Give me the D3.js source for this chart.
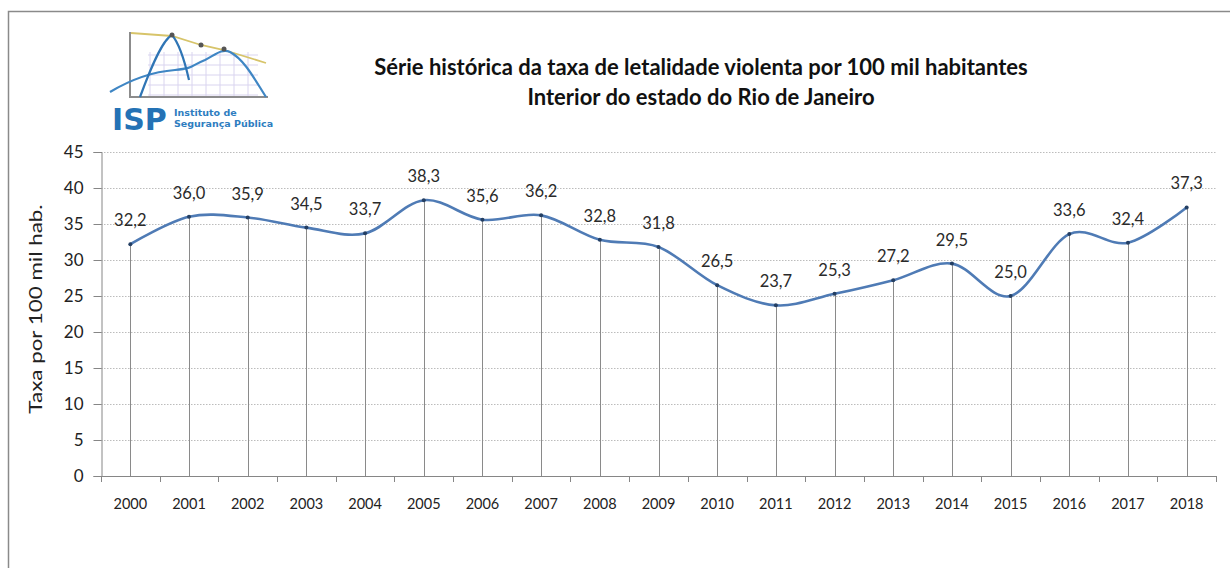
<!DOCTYPE html>
<html><head><meta charset="utf-8">
<script src="https://cdn.jsdelivr.net/npm/d3@7"></script>
<style>body{margin:0;background:#fff;} svg{display:block;font-family:Lato, "Open Sans", sans-serif;}</style>
</head><body><svg id="c" width="1230" height="568"></svg>
<script>
const years = ["2000","2001","2002","2003","2004","2005","2006","2007","2008","2009","2010","2011","2012","2013","2014","2015","2016","2017","2018"];
const values = [32.2,36.0,35.9,34.5,33.7,38.3,35.6,36.2,32.8,31.8,26.5,23.7,25.3,27.2,29.5,25.0,33.6,32.4,37.3];
const yTicks = [0,5,10,15,20,25,30,35,40,45];
const titleLines = ["Série histórica da taxa de letalidade violenta por 100 mil habitantes","Interior do estado do Rio de Janeiro"];
const yTitle = "Taxa por 100 mil hab.";
const logoName = "ISP";
const logoSub = ["Instituto de","Segurança Pública"];

const svg = d3.select("#c");
const fmt = v => d3.format(".1f")(v).replace(".", ",");

// frame
svg.append("rect").attr("x",8.5).attr("y",11.5).attr("width",1400).attr("height",800)
  .attr("fill","#fff").attr("stroke","#8a8a8a").attr("stroke-width",1.5);

const x = d3.scaleBand().domain(years).range([101,1216]).padding(0);
const y = d3.scaleLinear().domain([0,45]).range([476,152]);
const cx = d => x(d) + x.bandwidth()/2;

// gridlines
svg.append("g").selectAll("line").data(yTicks.filter(t=>t>0)).join("line")
  .attr("x1",101).attr("x2",1216).attr("y1",d=>y(d)+0.5).attr("y2",d=>y(d)+0.5)
  .attr("stroke","#bcbcbc").attr("stroke-width",1).attr("stroke-dasharray","1.5,1.5");

// y axis
const ya = svg.append("g").attr("transform","translate(101.5,0)")
  .call(d3.axisLeft(y).tickValues(yTicks).tickSize(8).tickPadding(10).tickFormat(d=>d));
ya.select(".domain").attr("stroke","#868686");
ya.selectAll(".tick line").attr("stroke","#868686");
ya.selectAll(".tick text").attr("font-size",17).attr("fill","#222").attr("font-family","Lato");

// x axis line and ticks at band boundaries
const bounds = years.map(d=>x(d)).concat([x.range()[1]]);
svg.append("line").attr("x1",101).attr("x2",1216).attr("y1",476.5).attr("y2",476.5).attr("stroke","#868686");
svg.append("g").selectAll("line").data(bounds).join("line")
  .attr("x1",d=>Math.round(d)+0.5).attr("x2",d=>Math.round(d)+0.5).attr("y1",476).attr("y2",482)
  .attr("stroke","#868686");
svg.append("g").selectAll("text").data(years).join("text")
  .attr("x",d=>cx(d)).attr("y",509).attr("text-anchor","middle")
  .attr("font-size",14.5).attr("fill","#222").text(d=>d);

// drop lines
svg.append("g").selectAll("line").data(years).join("line")
  .attr("x1",d=>Math.round(cx(d))+0.5).attr("x2",d=>Math.round(cx(d))+0.5)
  .attr("y1",(d,i)=>y(values[i])).attr("y2",476)
  .attr("stroke","#8a8a8a").attr("stroke-width",1);

// smooth line
const line = d3.line().x((d,i)=>cx(years[i])).y(d=>y(d)).curve(d3.curveCatmullRom.alpha(0));
svg.append("path").datum(values).attr("d",line).attr("fill","none")
  .attr("stroke","#4f7bb5").attr("stroke-width",2.6).attr("stroke-linejoin","round");

// markers
svg.append("g").selectAll("circle").data(values).join("circle")
  .attr("cx",(d,i)=>cx(years[i])).attr("cy",d=>y(d)).attr("r",2)
  .attr("fill","#243f63");

// data labels
svg.append("g").selectAll("text").data(values).join("text")
  .attr("x",(d,i)=>cx(years[i])).attr("y",d=>y(d)-18).attr("text-anchor","middle")
  .attr("font-size",16.5).attr("fill","#2a2a2a").text(d=>fmt(d));

// y title
svg.append("text").attr("transform","translate(42,309) rotate(-90) scale(1.28,1)")
  .attr("text-anchor","middle").attr("font-size",17.5).attr("fill","#222").text(yTitle);

// title
svg.append("g").selectAll("text").data(titleLines).join("text")
  .attr("x",701).attr("y",(d,i)=>75+i*30).attr("text-anchor","middle")
  .attr("font-size",22).attr("font-weight","bold").attr("fill","#111").text(d=>d);

// logo
const lg = svg.append("g");
const gx = d3.range(150,260,14), gy = d3.range(55,97,10);
lg.append("g").selectAll("line").data(gx).join("line")
  .attr("x1",d=>d).attr("x2",d=>d).attr("y1",52).attr("y2",97).attr("stroke","#d9d4ef").attr("stroke-width",1);
lg.append("g").selectAll("line").data(gy).join("line")
  .attr("x1",148).attr("x2",258).attr("y1",d=>d).attr("y2",d=>d).attr("stroke","#d9d4ef").attr("stroke-width",1);
lg.append("path").attr("d","M130,32 L130,97 L268,97").attr("fill","none").attr("stroke","#8c8c8c").attr("stroke-width",2);
lg.append("path").attr("d","M131,33 L172,36 L201,45 L224,50 L266,63").attr("fill","none").attr("stroke","#d7c46a").attr("stroke-width",1.8);
lg.append("path").attr("d","M110,92 C130,80 150,72 175,70 C195,68 190,66 205,60 C215,55 222,48 230,52 C245,60 255,80 266,97")
  .attr("fill","none").attr("stroke","#3f86c4").attr("stroke-width",2.2);
lg.append("path").attr("d","M140,97 C150,70 162,40 172,35 C178,42 184,58 189,80")
  .attr("fill","none").attr("stroke","#2f75b5").attr("stroke-width",2.2);
lg.append("g").selectAll("circle").data([[172,35],[201,45],[224,49]]).join("circle")
  .attr("cx",d=>d[0]).attr("cy",d=>d[1]).attr("r",2.5).attr("fill","#555");
lg.append("text").attr("x",112).attr("y",130).attr("font-size",30).attr("font-weight","900")
  .attr("font-family","'DejaVu Sans', sans-serif").attr("fill","#2472b5").text(logoName);
lg.append("g").selectAll("text").data(logoSub).join("text")
  .attr("x",174).attr("y",(d,i)=>116+i*10.5).attr("font-size",9.5).attr("font-weight","bold")
  .attr("font-family","'DejaVu Sans', sans-serif").attr("fill","#2e7dc0").text(d=>d);
</script></body></html>
